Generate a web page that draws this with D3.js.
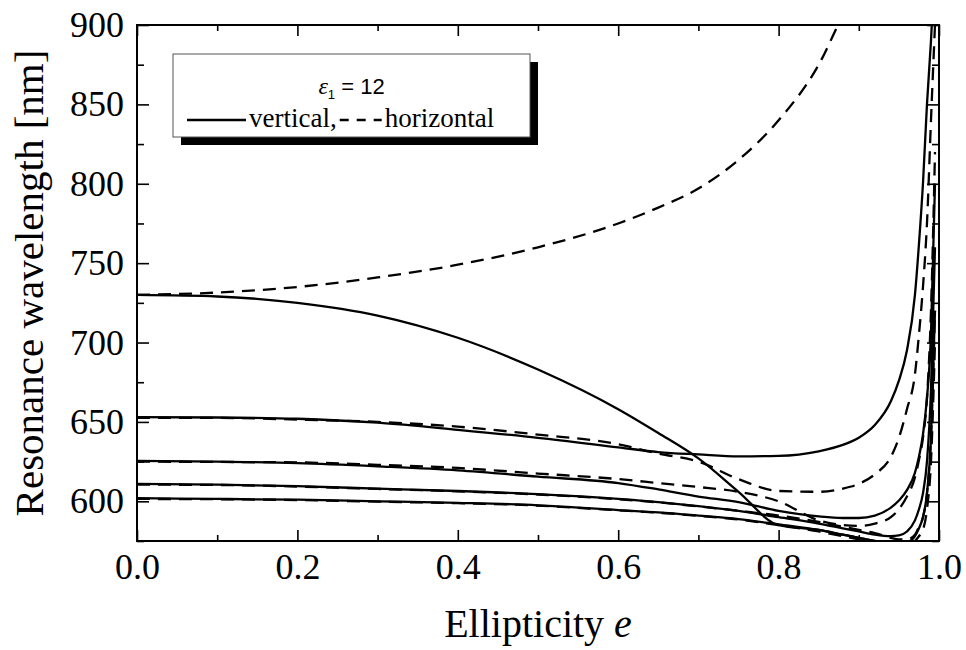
<!DOCTYPE html>
<html>
<head>
<meta charset="utf-8">
<script src="https://cdn.jsdelivr.net/npm/d3@7"></script>
<style>
body { margin: 0; background: #fff; }
text { font-family: "Liberation Serif", "Times New Roman", serif; fill: #000; }
</style>
</head>
<body>
<div id="chart"></div>
<script>
// ellipticity grid shared by every curve
var ell = [0, 0.1, 0.2, 0.3, 0.4, 0.5, 0.6, 0.65, 0.7, 0.75, 0.8, 0.85, 0.88, 0.9, 0.92, 0.94, 0.95, 0.96, 0.97, 0.975, 0.98, 0.985, 0.99, 0.995];

// vertical polarisation (solid)
var vert1 = [730, 729, 725, 717, 703, 683, 658, 643, 627, 606, 585, 582, 579, 577, 575, 572, null, null, null, null, null, null, null, null];
var vert2 = [653, 652.8, 652, 649.5, 645, 640, 634, 631, 629.5, 628.3, 628.6, 631.5, 635.5, 640, 648, 663, 676, 695, 730, 762, 800, 850, 890, 940];
var vert3 = [625.5, 625, 624, 622, 619.5, 615.5, 611.5, 607.5, 603, 599.5, 594, 590.5, 589.5, 589.5, 591, 596, 600.5, 607, 618, 628, 642, 665, 705, 800];
var vert4 = [611, 610.5, 609.5, 608, 606.5, 604.5, 601.5, 599.5, 597, 594, 590, 586, 583, 581, 579, 578, 578.5, 581, 588, 595, 605, 625, 670, 760];
var vert5 = [602, 601.5, 601, 600, 599, 597.5, 594.5, 593, 591, 588.8, 585.5, 582, 579, 577, 575, 573.5, 573, 574, 578, 583, 590, 605, 640, 720];

// horizontal polarisation (dashed)
var horiz1 = [730, 731.5, 735, 741, 749, 760, 775, 785, 797, 815, 840, 875, 906, 925, null, null, null, null, null, null, null, null, null, null];
var horiz2 = [652.5, 652.5, 651.5, 650, 647, 642, 636, 630, 625, 614, 606.5, 606, 608, 611, 617, 628, 640, 658, 680, 705, 735, 775, 840, 900];
var horiz3 = [625, 624.8, 624.5, 623, 621, 617.5, 614, 611.5, 609, 606, 600, 588, 585, 584.5, 586, 590, 595, 603, 615, 626, 640, 665, 720, 820];
var horiz4 = [610.5, 610.3, 609.3, 607.8, 606.3, 604.3, 601.3, 599.3, 596.8, 594, 591, 587, 584, 582, 580, 577, 576, 576, 579, 584, 590, 605, 640, 720];
var horiz5 = [601.5, 601.3, 600.8, 599.8, 598.8, 597.3, 594.3, 592.8, 590.8, 588.5, 585, 581, 578, 576, 574, 572.5, 572, 572.5, 575, 578, 582, 595, 625, 700];

var xTicks = [0, 0.2, 0.4, 0.6, 0.8, 1.0];
var xMinor = [0.1, 0.3, 0.5, 0.7, 0.9];
var yTicks = [600, 650, 700, 750, 800, 850, 900];
var yMinor = [575, 625, 675, 725, 775, 825, 875];

var solidSeries = [vert1, vert2, vert3, vert4, vert5];
var dashedSeries = [horiz1, horiz2, horiz3, horiz4, horiz5];

var width = 966, height = 650;
var margin = {left: 137, right: 27, top: 25, bottom: 109};

var svg = d3.select("#chart").append("svg")
  .attr("width", width)
  .attr("height", height);

var x = d3.scaleLinear().domain([0, 1]).range([margin.left, width - margin.right]);
var y = d3.scaleLinear().domain([575, 900]).range([height - margin.bottom, margin.top]);

svg.append("clipPath").attr("id", "plotclip")
  .append("rect")
  .attr("x", x(0)).attr("y", y(900))
  .attr("width", x(1) - x(0)).attr("height", y(575) - y(900));

function lineFor(vals) {
  return d3.line()
    .defined(function(d, i) { return vals[i] != null; })
    .x(function(d, i) { return x(ell[i]); })
    .y(function(d, i) { return y(vals[i]); })
    .curve(d3.curveMonotoneX)(vals);
}

var curves = svg.append("g").attr("clip-path", "url(#plotclip)");

curves.selectAll("path.solid")
  .data(solidSeries)
  .enter().append("path")
  .attr("class", "solid")
  .attr("d", lineFor)
  .attr("fill", "none")
  .attr("stroke", "#000")
  .attr("stroke-width", 2.3);

curves.selectAll("path.dashed")
  .data(dashedSeries)
  .enter().append("path")
  .attr("class", "dashed")
  .attr("d", lineFor)
  .attr("fill", "none")
  .attr("stroke", "#000")
  .attr("stroke-width", 2.3)
  .attr("stroke-dasharray", "13,8");

// axes, ticks pointing inward on all four sides
function styleAxis(g) {
  g.select(".domain").remove();
  g.selectAll(".tick line").attr("stroke", "#000").attr("stroke-width", 1.6);
}

svg.append("g")
  .attr("transform", "translate(0," + y(575) + ")")
  .call(d3.axisBottom(x).tickValues(xTicks).tickSize(-11).tickPadding(12).tickFormat(d3.format(".1f")))
  .call(styleAxis)
  .selectAll("text")
  .style("font-size", "36px")
  .style("font-family", "Liberation Serif, serif");

svg.append("g")
  .attr("transform", "translate(0," + y(575) + ")")
  .call(d3.axisBottom(x).tickValues(xMinor).tickSize(-6).tickFormat(""))
  .call(styleAxis);

svg.append("g")
  .attr("transform", "translate(0," + y(900) + ")")
  .call(d3.axisTop(x).tickValues(xTicks).tickSize(-11).tickFormat(""))
  .call(styleAxis);

svg.append("g")
  .attr("transform", "translate(0," + y(900) + ")")
  .call(d3.axisTop(x).tickValues(xMinor).tickSize(-6).tickFormat(""))
  .call(styleAxis);

svg.append("g")
  .attr("transform", "translate(" + x(0) + ",0)")
  .call(d3.axisLeft(y).tickValues(yTicks).tickSize(-12).tickPadding(13).tickFormat(d3.format("d")))
  .call(styleAxis)
  .selectAll("text")
  .style("font-size", "36px")
  .style("font-family", "Liberation Serif, serif");

svg.append("g")
  .attr("transform", "translate(" + x(0) + ",0)")
  .call(d3.axisLeft(y).tickValues(yMinor).tickSize(-7).tickFormat(""))
  .call(styleAxis);

svg.append("g")
  .attr("transform", "translate(" + x(1) + ",0)")
  .call(d3.axisRight(y).tickValues(yTicks).tickSize(-12).tickFormat(""))
  .call(styleAxis);

svg.append("g")
  .attr("transform", "translate(" + x(1) + ",0)")
  .call(d3.axisRight(y).tickValues(yMinor).tickSize(-7).tickFormat(""))
  .call(styleAxis);

// frame
svg.append("rect")
  .attr("x", x(0)).attr("y", y(900))
  .attr("width", x(1) - x(0)).attr("height", y(575) - y(900))
  .attr("fill", "none")
  .attr("stroke", "#000")
  .attr("stroke-width", 2);

// axis titles
var xTitle = svg.append("text")
  .attr("x", (x(0) + x(1)) / 2)
  .attr("y", 637)
  .attr("text-anchor", "middle")
  .style("font-size", "40px");
xTitle.append("tspan").text("Ellipticity ");
xTitle.append("tspan").style("font-style", "italic").text("e");

svg.append("text")
  .attr("transform", "translate(43," + (y(575) + y(900)) / 2 + ") rotate(-90)")
  .attr("text-anchor", "middle")
  .style("font-size", "41px")
  .text("Resonance wavelength [nm]");

// legend
var lg = svg.append("g");
var box = {x: 173, y: 54, w: 357, h: 83};

lg.append("rect")
  .attr("x", box.x + 8).attr("y", box.y + 8)
  .attr("width", box.w).attr("height", box.h)
  .attr("fill", "#000");

lg.append("rect")
  .attr("x", box.x).attr("y", box.y)
  .attr("width", box.w).attr("height", box.h)
  .attr("fill", "#fff")
  .attr("stroke", "#555")
  .attr("stroke-width", 1);

var title = lg.append("text")
  .attr("x", box.x + box.w / 2)
  .attr("y", 94)
  .attr("text-anchor", "middle")
  .style("font-size", "22px");
title.append("tspan").style("font-style", "italic").style("font-size", "24px").text("ε");
title.append("tspan").attr("dy", 5).style("font-family", "Liberation Sans, Arial, sans-serif").style("font-size", "13px").text("1");
title.append("tspan").attr("dy", -5).style("font-family", "Liberation Sans, Arial, sans-serif").text(" = 12");

var rowY = 127;
lg.append("line")
  .attr("x1", 187).attr("x2", 246)
  .attr("y1", rowY - 7).attr("y2", rowY - 7)
  .attr("stroke", "#000").attr("stroke-width", 2.3);

var vText = lg.append("text")
  .attr("x", 249).attr("y", rowY)
  .style("font-size", "27px")
  .text("vertical,");
var vEnd = 249 + vText.node().getComputedTextLength();

lg.append("line")
  .attr("x1", vEnd + 3).attr("x2", vEnd + 45)
  .attr("y1", rowY - 7).attr("y2", rowY - 7)
  .attr("stroke", "#000").attr("stroke-width", 2.3)
  .attr("stroke-dasharray", "9,8");

lg.append("text")
  .attr("x", vEnd + 48).attr("y", rowY)
  .style("font-size", "27px")
  .text("horizontal");
</script>
</body>
</html>
